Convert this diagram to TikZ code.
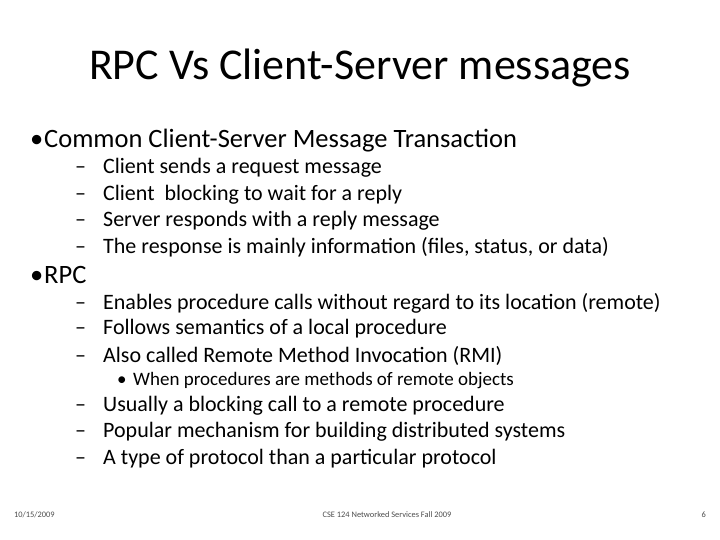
\documentclass[tikz,border=0pt]{standalone}
\usepackage{fontspec}
\setmainfont{Carlito}
\newcommand{\lead}[2]{\makebox[#1][l]{#2}}
\tikzset{
  lvlone/.style={anchor=west, inner sep=0pt, font=\fontsize{26.5}{28}\selectfont},
  lvltwo/.style={anchor=west, inner sep=0pt, font=\fontsize{22}{24}\selectfont},
  lvlthree/.style={anchor=west, inner sep=0pt, font=\fontsize{19}{21}\selectfont},
  foot/.style={inner sep=0pt, font=\fontsize{8.4}{10}\selectfont, text=black!70}
}
\begin{document}
\begin{tikzpicture}[x=1pt,y=-1pt]
  \useasboundingbox (0,0) rectangle (720,540);
  % title
  \node[font=\fontsize{44}{48}\selectfont] (title) at (360,68) {RPC Vs Client-Server messages};
  % first bullet
  \node[lvlone] (b1) at (30,141) {\lead{14pt}{\textbullet}Common Client-Server Message Transaction};
  \node[lvltwo] (s1) at (75,168) {\lead{28pt}{--}Client sends a request message};
  \node[lvltwo] (s2) at (75,195) {\lead{28pt}{--}Client\ \ blocking to wait for a reply};
  \node[lvltwo] (s3) at (75,221) {\lead{28pt}{--}Server responds with a reply message};
  \node[lvltwo] (s4) at (75,247) {\lead{28pt}{--}The response is mainly information (files, status, or data)};
  % second bullet
  \node[lvlone] (b2) at (30,275) {\lead{14pt}{\textbullet}RPC};
  \node[lvltwo] (r1) at (75,303) {\lead{28pt}{--}Enables procedure calls without regard to its location (remote)};
  \node[lvltwo] (r2) at (75,329) {\lead{28pt}{--}Follows semantics of a local procedure};
  \node[lvltwo] (r3) at (75,356) {\lead{28pt}{--}Also called Remote Method Invocation (RMI)};
  \node[lvlthree] (t1) at (117,381) {\lead{16pt}{\textbullet}When procedures are methods of remote objects};
  \node[lvltwo] (r4) at (75,406) {\lead{28pt}{--}Usually a blocking call to a remote procedure};
  \node[lvltwo] (r5) at (75,432) {\lead{28pt}{--}Popular mechanism for building distributed systems};
  \node[lvltwo] (r6) at (75,459) {\lead{28pt}{--}A type of protocol than a particular protocol};
  % footer
  \node[foot, anchor=west] (date) at (14,515) {10/15/2009};
  \node[foot] (course) at (387,515) {CSE 124 Networked Services Fall 2009};
  \node[foot, anchor=east] (page) at (706,515) {6};
\end{tikzpicture}
\end{document}
